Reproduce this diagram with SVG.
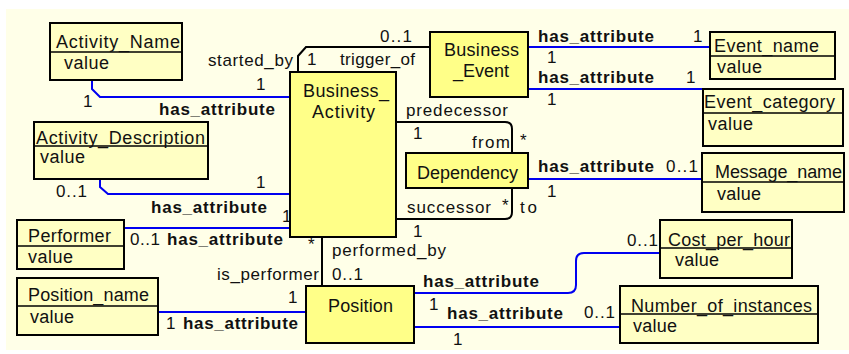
<svg xmlns="http://www.w3.org/2000/svg" width="849" height="354" viewBox="0 0 849 354">
<style>
.bg{fill:#FFFFE8}
.node rect{fill:#FFFF88;stroke:#000;stroke-width:2}
.attr rect{fill:#FFFFC4;stroke:#000;stroke-width:2}
.attr line{stroke:#000;stroke-width:1.5}
text{font-family:"Liberation Sans",Arial,sans-serif;font-size:17px;fill:#111}
.nm{font-size:18px}
.b{font-weight:bold}
.assoc{fill:none;stroke:#000;stroke-width:2}
.link{fill:none;stroke:#0000F0;stroke-width:2}
</style>
<rect class="bg" x="6" y="9" width="843" height="341"/>

<g id="connectors">
  <!-- associations -->
  <path class="assoc" d="M298,72 V56 L306,47 H430"/>
  <path class="assoc" d="M396,122 H505 Q512,122 512,129 V153"/>
  <path class="assoc" d="M396,219 H505 Q512,219 512,212 V188"/>
  <path class="assoc" d="M322,237 V286"/>
  <!-- attribute links -->
  <path class="link" d="M92,80 V89 L100,97 H290"/>
  <path class="link" d="M100,179 V187 L108,194 H290"/>
  <path class="link" d="M124,228 H290"/>
  <path class="link" d="M158,312 H306"/>
  <path class="link" d="M528,47 H710"/>
  <path class="link" d="M528,89 H703"/>
  <path class="link" d="M528,179 H702"/>
  <path class="link" d="M414,293 H568 Q576,293 576,285 V261 Q576,253 584,253 H660"/>
  <path class="link" d="M414,327 H620"/>

  <!-- association labels -->
  <text x="208" y="66" textLength="85">started_by</text>
  <text x="307" y="65">1</text>
  <text x="340" y="65" textLength="75">trigger_of</text>
  <text x="380" y="42" textLength="32">0..1</text>
  <text x="406" y="116" textLength="102">predecessor</text>
  <text x="413" y="139">1</text>
  <text x="472" y="148" textLength="38">from</text>
  <text x="520" y="146">*</text>
  <text x="407" y="213" textLength="84">successor</text>
  <text x="502" y="211">*</text>
  <text x="520" y="213" textLength="17">to</text>
  <text x="413" y="237">1</text>
  <text x="308" y="250">*</text>
  <text x="332" y="256" textLength="114">performed_by</text>
  <text x="332" y="280" textLength="31">0..1</text>
  <text x="217" y="280" textLength="102">is_performer</text>
  <text x="288" y="303">1</text>

  <!-- attribute link labels -->
  <text x="256" y="90">1</text>
  <text x="83" y="107">1</text>
  <text class="b" x="159" y="115" textLength="116">has_attribute</text>
  <text x="256" y="188">1</text>
  <text x="56" y="197" textLength="31">0..1</text>
  <text class="b" x="151" y="213" textLength="116">has_attribute</text>
  <text x="282" y="222">1</text>
  <text x="130" y="245" textLength="30">0..1</text>
  <text class="b" x="167" y="245" textLength="116">has_attribute</text>
  <text x="166" y="329">1</text>
  <text class="b" x="183" y="329" textLength="115">has_attribute</text>
  <text class="b" x="538" y="42" textLength="116">has_attribute</text>
  <text x="693" y="42">1</text>
  <text x="547" y="63">1</text>
  <text class="b" x="538" y="83" textLength="116">has_attribute</text>
  <text x="686" y="83">1</text>
  <text x="547" y="105">1</text>
  <text class="b" x="538" y="172" textLength="116">has_attribute</text>
  <text x="666" y="172" textLength="32">0..1</text>
  <text x="547" y="197">1</text>
  <text class="b" x="423" y="287" textLength="116">has_attribute</text>
  <text x="429" y="310">1</text>
  <text x="627" y="246" textLength="31">0..1</text>
  <text class="b" x="447" y="319" textLength="116">has_attribute</text>
  <text x="453" y="345">1</text>
  <text x="584" y="318" textLength="31">0..1</text>
</g>

<g id="Business_Activity" class="node">
  <rect x="290" y="72" width="106" height="165"/>
  <text class="nm" x="303" y="97" textLength="86">Business_</text>
  <text class="nm" x="312" y="118" textLength="63">Activity</text>
</g>
<g id="Business_Event" class="node">
  <rect x="430" y="32" width="98" height="65"/>
  <text class="nm" x="444" y="56" textLength="75">Business</text>
  <text class="nm" x="453" y="77" textLength="56">_Event</text>
</g>
<g id="Dependency" class="node">
  <rect x="406" y="153" width="122" height="35"/>
  <text class="nm" x="417" y="179" textLength="101">Dependency</text>
</g>
<g id="Position" class="node">
  <rect x="306" y="286" width="108" height="57"/>
  <text class="nm" x="328" y="312" textLength="65">Position</text>
</g>

<g id="Activity_Name" class="attr">
  <rect x="50" y="23" width="132" height="57"/>
  <line x1="50" y1="52" x2="182" y2="52"/>
  <text class="nm" x="56" y="48" textLength="124">Activity_Name</text>
  <text class="nm" x="64" y="69" textLength="45">value</text>
</g>
<g id="Activity_Description" class="attr">
  <rect x="34" y="122" width="174" height="57"/>
  <line x1="34" y1="146" x2="208" y2="146"/>
  <text class="nm" x="36" y="144" textLength="169">Activity_Description</text>
  <text class="nm" x="40" y="163" textLength="45">value</text>
</g>
<g id="Performer" class="attr">
  <rect x="17" y="220" width="107" height="49"/>
  <line x1="17" y1="246" x2="124" y2="246"/>
  <text class="nm" x="28" y="242" textLength="83">Performer</text>
  <text class="nm" x="28" y="263" textLength="45">value</text>
</g>
<g id="Position_name" class="attr">
  <rect x="17" y="278" width="141" height="57"/>
  <line x1="17" y1="306" x2="158" y2="306"/>
  <text class="nm" x="28" y="301" textLength="121">Position_name</text>
  <text class="nm" x="30" y="323" textLength="44">value</text>
</g>
<g id="Event_name" class="attr">
  <rect x="710" y="32" width="125" height="47"/>
  <line x1="710" y1="56" x2="835" y2="56"/>
  <text class="nm" x="714" y="52" textLength="105">Event_name</text>
  <text class="nm" x="717" y="73" textLength="45">value</text>
</g>
<g id="Event_category" class="attr">
  <rect x="703" y="89" width="140" height="57"/>
  <line x1="703" y1="113" x2="843" y2="113"/>
  <text class="nm" x="704" y="108" textLength="131">Event_category</text>
  <text class="nm" x="708" y="130" textLength="45">value</text>
</g>
<g id="Message_name" class="attr">
  <rect x="702" y="153" width="142" height="59"/>
  <line x1="702" y1="182" x2="844" y2="182"/>
  <text class="nm" x="715" y="178" textLength="127">Message_name</text>
  <text class="nm" x="717" y="200" textLength="44">value</text>
</g>
<g id="Cost_per_hour" class="attr">
  <rect x="660" y="220" width="132" height="58"/>
  <line x1="660" y1="248" x2="792" y2="248"/>
  <text class="nm" x="668" y="246" textLength="122">Cost_per_hour</text>
  <text class="nm" x="675" y="266" textLength="44">value</text>
</g>
<g id="Number_of_instances" class="attr">
  <rect x="620" y="286" width="198" height="57"/>
  <line x1="620" y1="314" x2="818" y2="314"/>
  <text class="nm" x="631" y="312" textLength="181">Number_of_instances</text>
  <text class="nm" x="633" y="332" textLength="44">value</text>
</g>
</svg>
